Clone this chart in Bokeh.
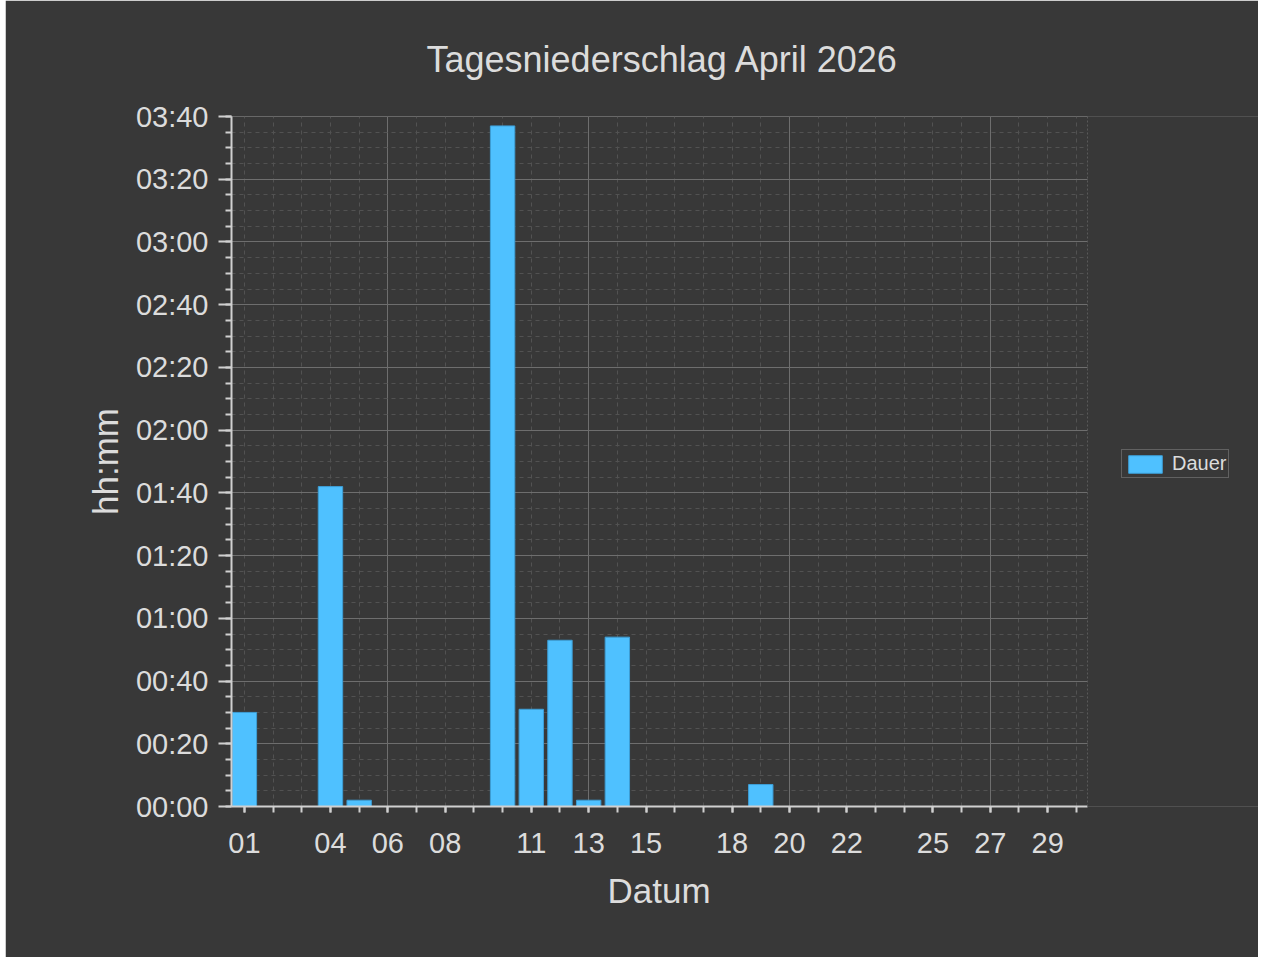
from bokeh.plotting import figure
from bokeh.models import (FixedTicker, LinearAxis, Legend, LegendItem, Range1d,
                          BoxAnnotation, Span, Title)
from bokeh.embed import file_html
from bokeh.resources import INLINE

# ---- data ----
days = [1, 4, 5, 10, 11, 12, 13, 14, 19]
minutes = [30, 102, 2, 217, 31, 53, 2, 54, 7]

x_ticks = [1, 4, 6, 8, 11, 13, 15, 18, 20, 22, 25, 27, 29]
x_tick_labels = ["01", "04", "06", "08", "11", "13", "15", "18", "20", "22", "25", "27", "29"]
week_ticks = [6, 13, 20, 27]
all_days = list(range(1, 31))

y_ticks = [0, 20, 40, 60, 80, 100, 120, 140, 160, 180, 200, 220]
y_tick_labels = ["00:00", "00:20", "00:40", "01:00", "01:20", "01:40",
                 "02:00", "02:20", "02:40", "03:00", "03:20", "03:40"]
y_minor = list(range(0, 225, 5))

X_START, X_END = 0.55, 30.39   # visible data area (days)
X_CANVAS_END = 36.35           # frame extended to the right to host the legend
Y_START, Y_END = 0, 220

BG = "#383838"
TXT = "#dcdcdc"
FONT = "Liberation Sans"

p = figure(frame_width=1027, frame_height=690, output_backend="svg", toolbar_location=None,
           x_range=Range1d(X_START, X_CANVAS_END), y_range=Range1d(Y_START, Y_END),
           title="Tagesniederschlag April 2026",
           min_border_left=226, min_border_right=0,
           min_border_top=116, min_border_bottom=151)
p.margin = (0, 5, 5, 5)

p.background_fill_color = BG
p.border_fill_color = BG
p.outline_line_color = None

p.title.align = "left"
p.title.offset = 195
p.title.text_color = TXT
p.title.text_font = FONT
p.title.text_font_size = "36px"
p.title.text_font_style = "normal"
p.title.standoff = 73

r = p.vbar(x=days, top=minutes, width=0.85, bottom=0,
           fill_color="#4FC1FF", line_color="#3D9ED6", line_width=1)

# x axis
xa = p.xaxis[0]
xa.ticker = FixedTicker(ticks=x_ticks, minor_ticks=all_days)
xa.major_label_overrides = {t: l for t, l in zip(x_ticks, x_tick_labels)}
xa.bounds = (X_START, X_END)

# y axis
ya = p.yaxis[0]
ya.ticker = FixedTicker(ticks=y_ticks, minor_ticks=y_minor)
ya.major_label_overrides = {t: l for t, l in zip(y_ticks, y_tick_labels)}
ya.axis_label = "hh:mm"

for ax in (xa, ya):
    ax.axis_line_color = "#d0d0d0"
    ax.axis_line_width = 2
    ax.major_tick_line_color = "#d0d0d0"
    ax.minor_tick_line_color = "#d0d0d0"
    ax.major_tick_line_width = 2
    ax.minor_tick_line_width = 2
    ax.major_tick_in = 0
    ax.minor_tick_in = 0
    ax.major_label_text_color = TXT
    ax.major_label_text_font = FONT
    ax.major_label_text_font_size = "29px"
    ax.axis_label_text_color = TXT
    ax.axis_label_text_font = FONT
    ax.axis_label_text_font_size = "35px"
    ax.axis_label_text_font_style = "normal"

xa.major_tick_out = 6
xa.minor_tick_out = 6
xa.major_label_standoff = 20
ya.major_tick_out = 13
ya.minor_tick_out = 6
ya.major_label_standoff = 10
ya.axis_label_standoff = 8

# x axis title, centred under the data area
xtitle = Title(text="Datum", align="left", offset=376, text_color=TXT, text_font=FONT,
               text_font_size="35px", text_font_style="normal", standoff=26)
p.add_layout(xtitle, "below")

# long weekly ticks
wk = LinearAxis(fixed_location=Y_START, ticker=FixedTicker(ticks=week_ticks, minor_ticks=[]),
                major_tick_out=13, major_tick_in=0, major_tick_line_color="#d0d0d0",
                major_tick_line_width=2, minor_tick_line_color=None,
                axis_line_color=None, major_label_text_font_size="0px",
                major_label_overrides={t: "" for t in week_ticks})
p.add_layout(wk, "below")

# dotted top edge of the data area
top_edge = LinearAxis(fixed_location=Y_END, bounds=(X_START, X_END),
                      ticker=FixedTicker(ticks=[], minor_ticks=[]),
                      axis_line_color="#6a6a6a", axis_line_width=1, axis_line_dash="1 1",
                      major_tick_line_color=None, minor_tick_line_color=None,
                      major_label_text_font_size="0px")
p.add_layout(top_edge, "above")

# grids (interior lines only)
p.xgrid.ticker = FixedTicker(ticks=week_ticks, minor_ticks=all_days)
p.ygrid.ticker = FixedTicker(ticks=y_ticks[1:-1], minor_ticks=y_minor[1:-1])
for g in (p.xgrid[0], p.ygrid[0]):
    g.grid_line_color = "#6e6e6e"
    g.grid_line_width = 1
    g.minor_grid_line_color = "#525252"
    g.minor_grid_line_dash = "4 4"
    g.minor_grid_line_width = 1

# cover grid lines beyond the data area (legend area)
p.add_layout(BoxAnnotation(left=X_END, right=X_CANVAS_END + 2, bottom=-20, top=240,
                           fill_color=BG, fill_alpha=1.0, line_color=None))
p.add_layout(Span(location=X_END, dimension="height", line_color="#5a5a5a",
                  line_width=1, line_dash="2 2"))

legend = Legend(items=[LegendItem(label="Dauer", renderers=[r])], location=(890, 328),
                background_fill_color=BG, border_line_color="#8a8a8a", border_line_width=1,
                label_text_color=TXT, label_text_font=FONT, label_text_font_size="20px",
                glyph_width=42, glyph_height=22, padding=2, spacing=0,
                label_standoff=6, margin=0)
p.add_layout(legend)

open("out.html", "w").write(file_html(p, INLINE))
